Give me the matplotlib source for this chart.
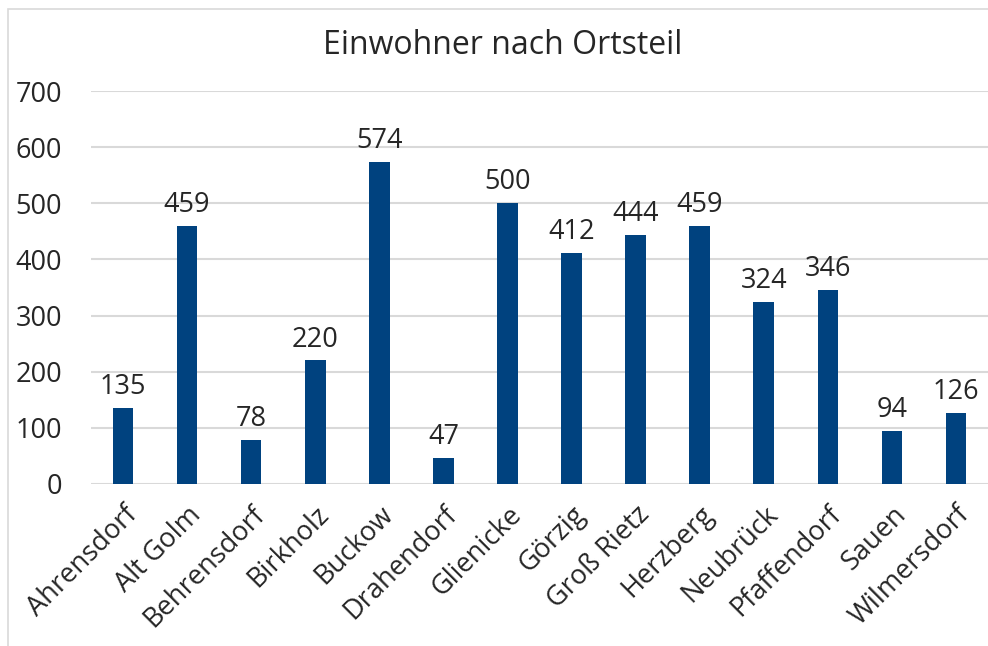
import matplotlib
matplotlib.use("Agg")
import matplotlib.pyplot as plt
from matplotlib.patches import Rectangle

plt.rcParams['font.family'] = ['Open Sans', 'DejaVu Sans']

categories = ["Ahrensdorf", "Alt Golm", "Behrensdorf", "Birkholz", "Buckow", "Drahendorf",
              "Glienicke", "Görzig", "Groß Rietz", "Herzberg", "Neubrück", "Pfaffendorf",
              "Sauen", "Wilmersdorf"]
values = [135, 459, 78, 220, 574, 47, 500, 412, 444, 459, 324, 346, 94, 126]
yticks = [0, 100, 200, 300, 400, 500, 600, 700]
title = "Einwohner nach Ortsteil"

bar_color = "#00427f"
text_color = "#262626"
fs = 19.5

fig = plt.figure(figsize=(9.88, 6.46), dpi=100)
fig.patches.append(Rectangle((8/988, -0.05), 1.1, 1.05 - 9/646, transform=fig.transFigure,
                             fill=False, edgecolor="#d9d9d9", linewidth=1.2, zorder=0))
ax = fig.add_axes([91/988, 1 - 484/646, (988 - 91)/988, (484 - 91)/646])

x = list(range(len(categories)))
ax.bar(x, values, width=0.32, color=bar_color, zorder=3)
ax.set_xlim(-0.5, len(categories) - 0.5)
ax.set_ylim(0, 700)
ax.set_yticks(yticks)
ax.set_yticklabels([str(t) for t in yticks], fontsize=fs, color=text_color)
ax.yaxis.grid(True, color="#d9d9d9", linewidth=1.5, zorder=0)
ax.set_axisbelow(True)
for s in ax.spines.values():
    s.set_visible(False)
ax.tick_params(axis='both', length=0)
ax.tick_params(axis='y', pad=21)

ax.set_xticks(x)
ax.set_xticklabels(categories, rotation=45, ha='right', va='top', rotation_mode='anchor',
                   fontsize=fs, color=text_color)
ax.tick_params(axis='x', pad=12)

for xi, v in zip(x, values):
    ax.annotate(str(v), (xi, v), xytext=(0, 5), textcoords='offset points',
                ha='center', va='bottom', fontsize=fs, color=text_color)

fig.text(503/988, 1 - 45/646, title, ha='center', va='center', fontsize=23, color=text_color)

fig.savefig("out.png", dpi=100)
